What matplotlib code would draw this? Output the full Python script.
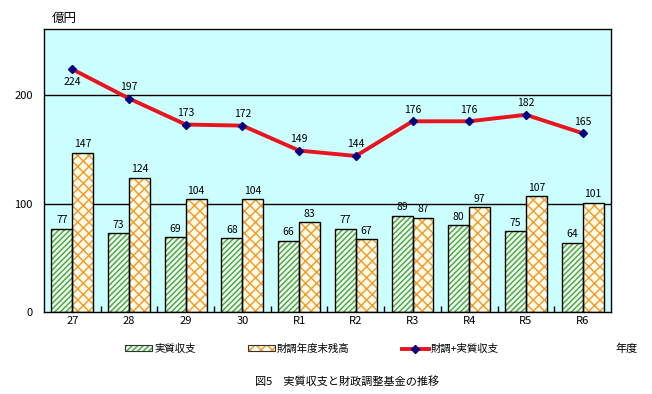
import matplotlib
matplotlib.use("Agg")
import matplotlib.pyplot as plt
import numpy as np
from matplotlib.lines import Line2D
from matplotlib.patches import Patch

plt.rcParams['font.family'] = ['Noto Sans CJK JP', 'DejaVu Sans']
plt.rcParams['hatch.linewidth'] = 1.1

categories = ['27', '28', '29', '30', 'R1', 'R2', 'R3', 'R4', 'R5', 'R6']
jisshitsu = [77, 73, 69, 68, 66, 77, 89, 80, 75, 64]
zandaka = [147, 124, 104, 104, 83, 67, 87, 97, 107, 101]
goukei = [224, 197, 173, 172, 149, 144, 176, 176, 182, 165]

fig = plt.figure(figsize=(6.52, 3.94), dpi=100)
ax = fig.add_axes([0.0675, 0.208, 0.8695, 0.718])
ax.set_facecolor('#CCFFFF')

x = np.arange(len(categories))
w = 0.37
green = '#4CA84C'
orange = '#F0A030'
green_face = '#F4FFF0'
orange_face = '#FFFBEA'

# hatched fills
ax.bar(x - w/2, jisshitsu, w, color=green_face, edgecolor=green, hatch='//////', linewidth=0, zorder=2)
ax.bar(x + w/2, zandaka, w, color=orange_face, edgecolor=orange, hatch='xxx', linewidth=0, zorder=2)
# outlines
ax.bar(x - w/2, jisshitsu, w, fill=False, edgecolor='black', linewidth=1, zorder=3)
ax.bar(x + w/2, zandaka, w, fill=False, edgecolor='black', linewidth=1, zorder=3)

ax.plot(x, goukei, color='#E8141E', linewidth=2.8, zorder=4)
ax.plot(x, goukei, linestyle='none', marker='D', markersize=4.5, color='#000080', zorder=5)

fs = 7.5
for i in range(len(x)):
    ax.text(x[i] - w/2, jisshitsu[i] + 3, str(jisshitsu[i]), ha='center', va='bottom', fontsize=fs, zorder=6)
    ax.text(x[i] + w/2, zandaka[i] + 3, str(zandaka[i]), ha='center', va='bottom', fontsize=fs, zorder=6)
    if i == 0:
        ax.text(x[i], goukei[i] - 7, str(goukei[i]), ha='center', va='top', fontsize=fs, zorder=6)
    else:
        ax.text(x[i], goukei[i] + 6, str(goukei[i]), ha='center', va='bottom', fontsize=fs, zorder=6)

ax.set_xlim(-0.5, len(x) - 0.5)
ax.set_ylim(0, 261)
ax.set_yticks([0, 100, 200])
ax.set_yticklabels(['0', '100', '200'], fontsize=8)
ax.tick_params(axis='y', length=0, pad=8)
ax.set_xticks(x)
ax.set_xticklabels(categories, fontsize=8)
ax.tick_params(axis='x', length=0, pad=3)
ax.set_xticks(np.arange(0.5, len(x) - 0.5, 1), minor=True)
ax.tick_params(axis='x', which='minor', length=4, direction='in', width=1)
for yv in [100, 200]:
    ax.axhline(yv, color='black', linewidth=1, zorder=1)
for s in ax.spines.values():
    s.set_linewidth(1)
    s.set_color('black')

fig.text(52/652, 1 - 18/394, '億円', fontsize=9, ha='left', va='center')

handles = [
    (Patch(facecolor=green_face, edgecolor=green, hatch='//////', linewidth=0),
     Patch(fill=False, edgecolor='#333333', linewidth=0.8)),
    (Patch(facecolor=orange_face, edgecolor=orange, hatch='xxx', linewidth=0),
     Patch(fill=False, edgecolor='#333333', linewidth=0.8)),
    Line2D([0], [0], color='#E8141E', linewidth=2.8, marker='D', markersize=4, markerfacecolor='#000080', markeredgecolor='#000080'),
]
labels = ['実質収支', '財調年度末残高', '財調+実質収支']
leg = fig.legend(handles, labels, loc='center', bbox_to_anchor=(312/652, 1 - 349/394), ncol=3,
                 frameon=False, fontsize=7.5, handlelength=2.6, handleheight=0.5,
                 columnspacing=5.0, handletextpad=0.2)

fig.text(627/652, 1 - 349/394, '年度', fontsize=8, ha='center', va='center')
fig.text(347/652, 1 - 381/394, '図5　実質収支と財政調整基金の推移', fontsize=8, ha='center', va='center')

fig.savefig('out.png', dpi=100)
